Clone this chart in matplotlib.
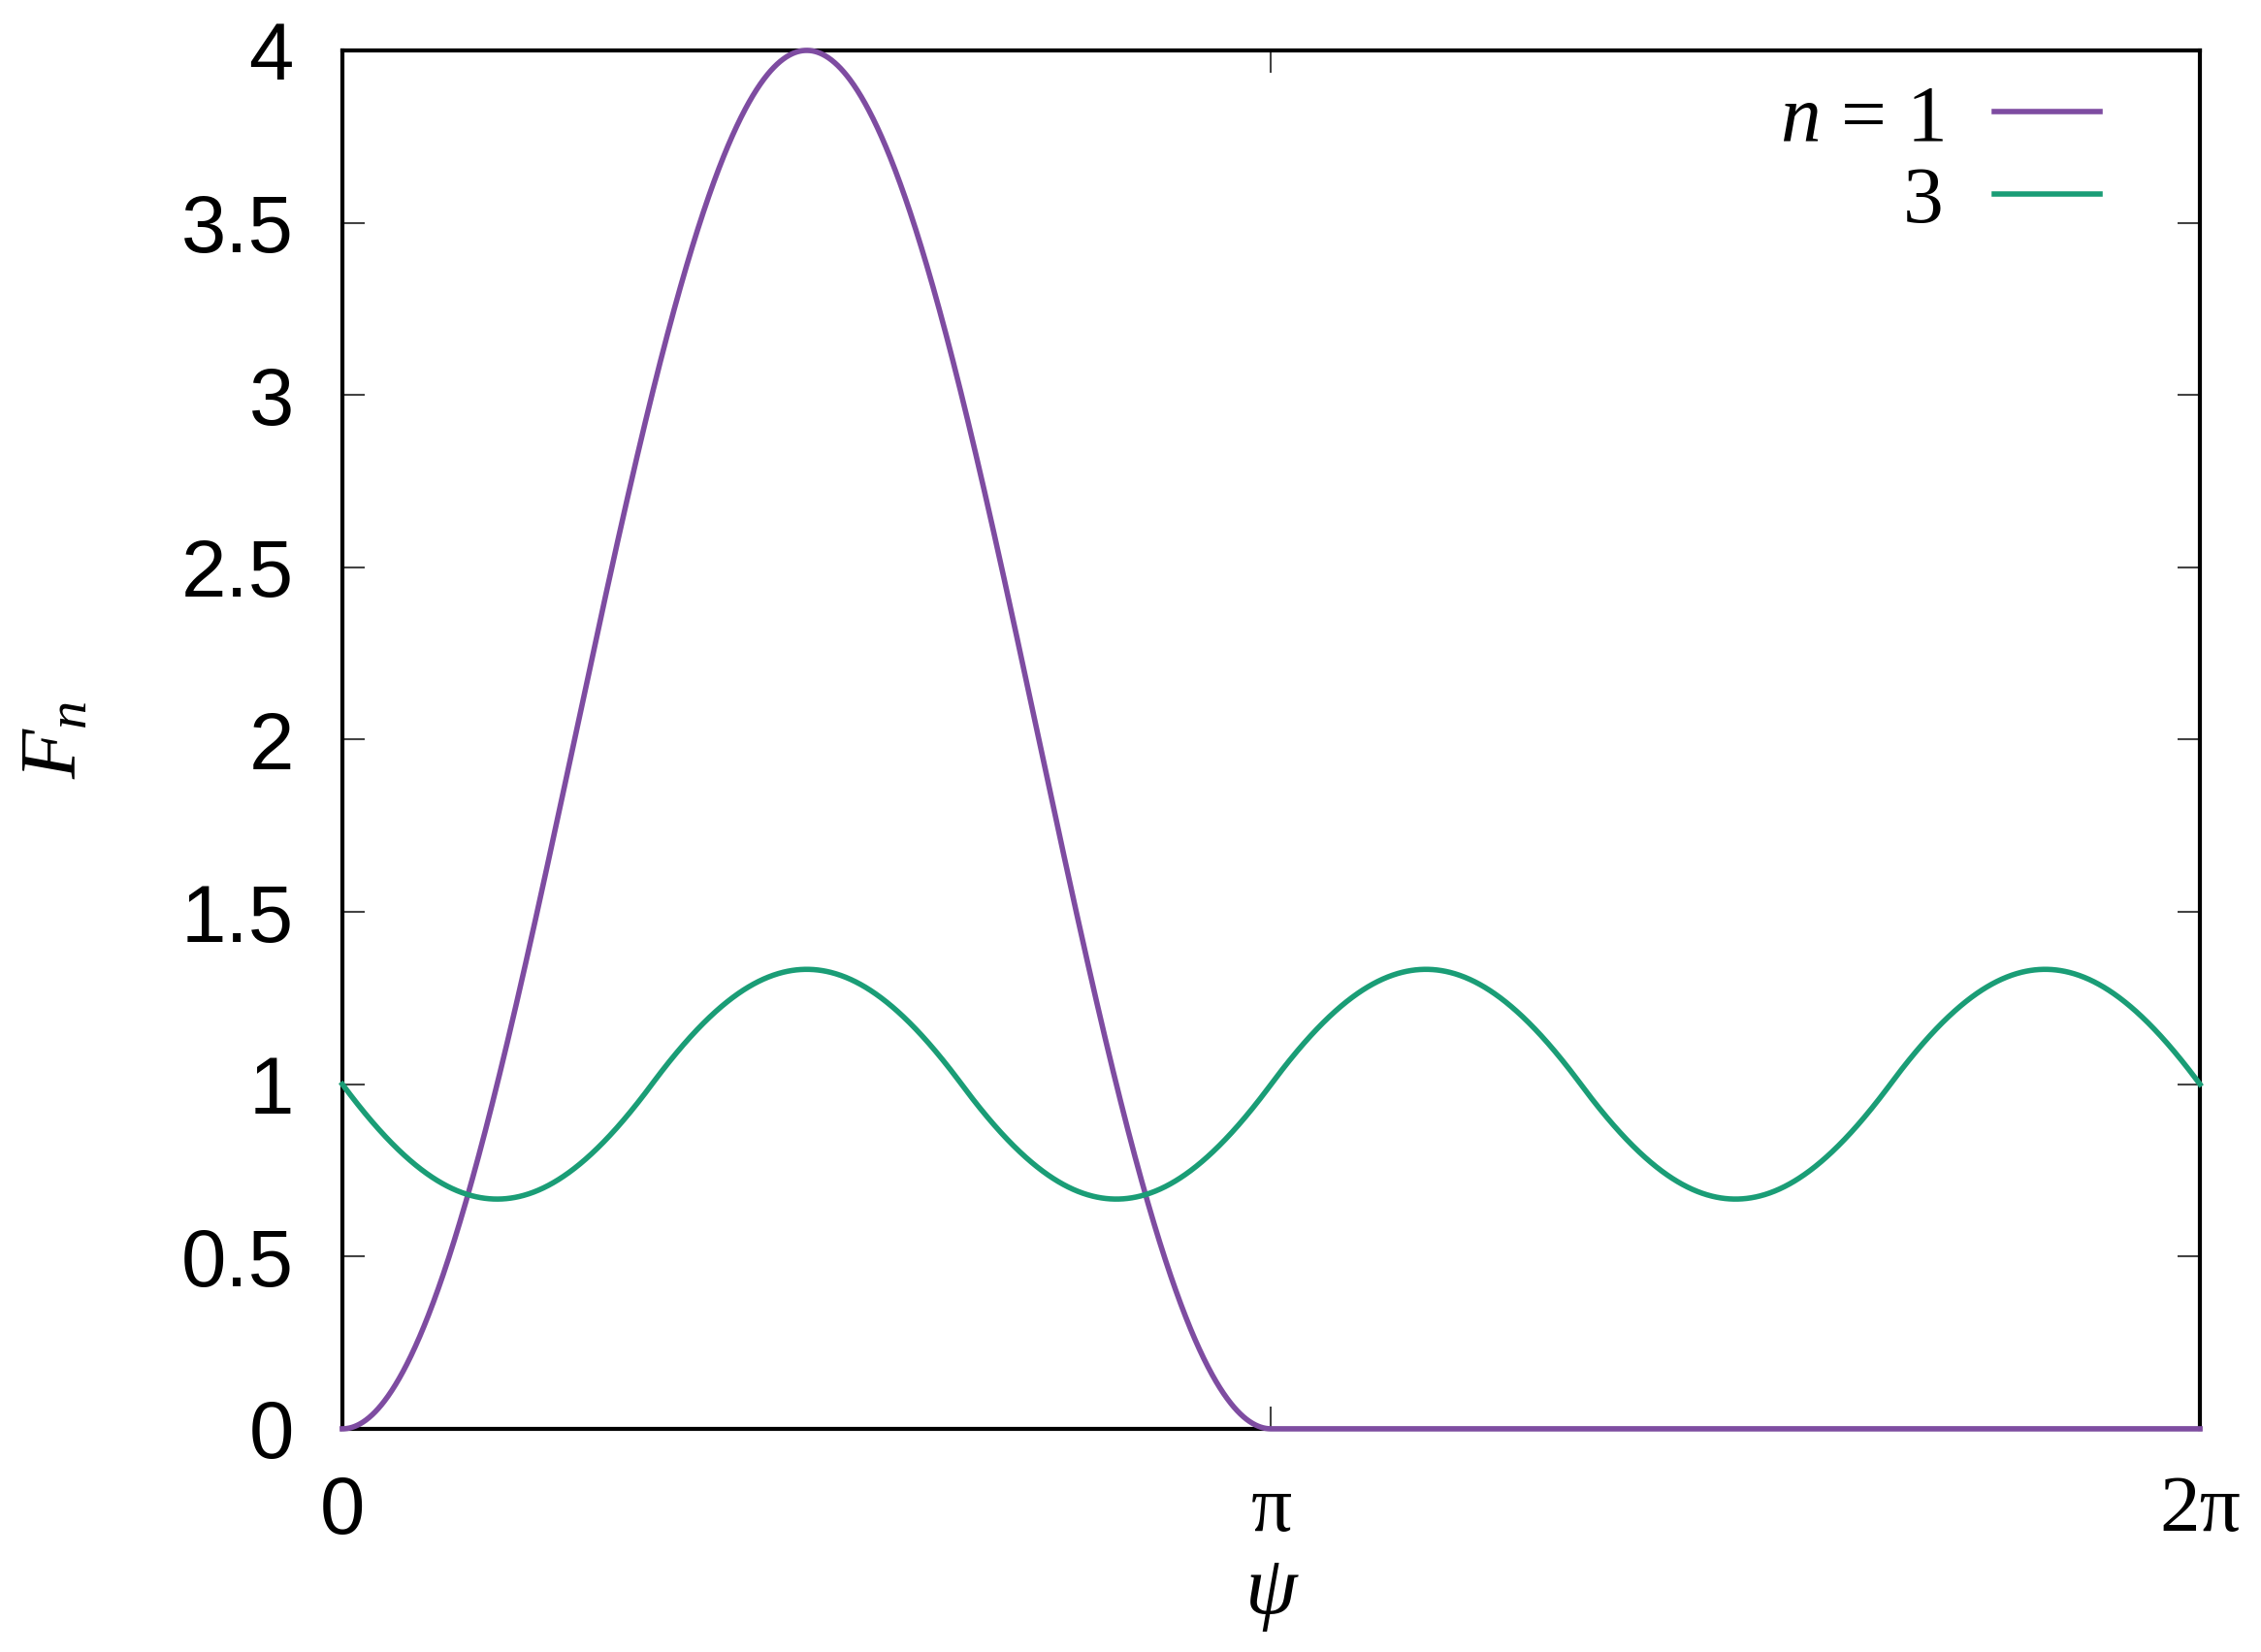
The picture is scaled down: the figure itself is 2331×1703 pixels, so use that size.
import numpy as np
import matplotlib
matplotlib.use('Agg')
import matplotlib.pyplot as plt

# ---- data ----
harmonics = [1, 3]
legend_labels = [r'$n$ = 1', '3']
colors = ['#7e4ca1', '#1a9d76']
peak_amplitude = 4.0
x_ticks = [0, np.pi, 2 * np.pi]
x_ticklabels = ['0', 'π', '2π']
y_ticks = [0, 0.5, 1, 1.5, 2, 2.5, 3, 3.5, 4]
y_ticklabels = ['0', '0.5', '1', '1.5', '2', '2.5', '3', '3.5', '4']

plt.rcParams['mathtext.fontset'] = 'custom'
plt.rcParams['mathtext.rm'] = 'Liberation Serif'
plt.rcParams['mathtext.it'] = 'Liberation Serif:italic'

psi = np.linspace(0, 2 * np.pi, 3001)


def F(n, x):
    total = np.zeros_like(x)
    for k in range(n):
        s = np.sin(x + 2 * np.pi * k / n)
        total += np.clip(s, 0, None) ** 2
    return peak_amplitude / n * total


fig = plt.figure(figsize=(23.31, 17.03), dpi=100)
ax = fig.add_axes([0.1514, 0.1351, 0.9730 - 0.1514, 0.9695 - 0.1351])

handles = []
for n, c, lab in zip(harmonics, colors, legend_labels):
    ln, = ax.plot(psi, F(n, psi), color=c, lw=4.0, clip_on=False, zorder=3, label=lab)
    handles.append(ln)

ax.set_xlim(0, 2 * np.pi)
ax.set_ylim(0, 4)
ax.set_xticks(x_ticks)
ax.set_xticklabels(x_ticklabels)
ax.set_yticks(y_ticks)
ax.set_yticklabels(y_ticklabels)

for lbl in ax.get_yticklabels():
    lbl.set_fontfamily('Liberation Sans')
    lbl.set_fontsize(60)
for i, lbl in enumerate(ax.get_xticklabels()):
    lbl.set_fontfamily('Liberation Sans' if i == 0 else 'Liberation Serif')
    lbl.set_fontsize(60)

ax.tick_params(axis='both', which='major', direction='in', length=16.5, width=1.5,
               color='#444444', top=True, right=True)
ax.tick_params(axis='y', pad=36)
ax.tick_params(axis='x', pad=34)
for sp in ax.spines.values():
    sp.set_linewidth(3.0)
    sp.set_zorder(2)

ax.set_xlabel('ψ', fontfamily='Liberation Serif', fontstyle='italic', fontsize=62, labelpad=3)
ax.set_ylabel(r'$F_n$', fontsize=60)
ax.yaxis.set_label_coords(-0.135, 0.5)

leg = ax.legend(handles=handles, loc='upper right', bbox_to_anchor=(0.946, 0.976),
                prop={'family': 'Liberation Serif', 'size': 60}, markerfirst=False,
                frameon=False, handlelength=1.3, handletextpad=0.63, labelspacing=0.1,
                borderpad=0, borderaxespad=0)

fig.savefig('out.png', dpi=100, facecolor='white')
